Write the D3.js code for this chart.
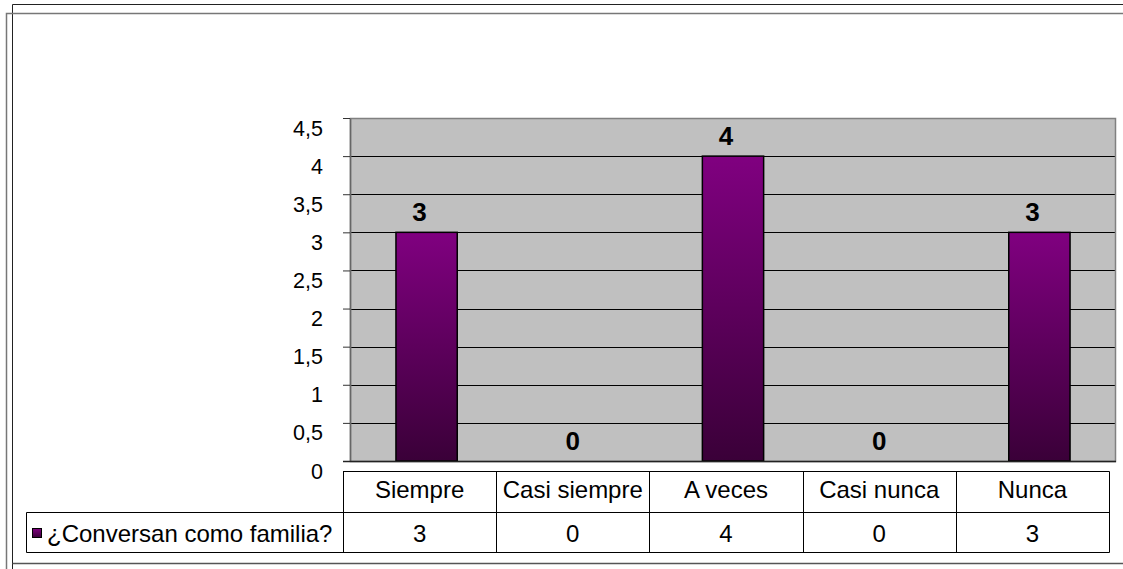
<!DOCTYPE html>
<html><head><meta charset="utf-8">
<script src="https://cdn.jsdelivr.net/npm/d3@7/dist/d3.min.js"></script>
<style>
html,body{margin:0;padding:0;background:#fff;}
svg{display:block;font-family:"Liberation Sans",Arial,sans-serif;}
</style></head>
<body>
<svg id="chart" width="1123" height="569"></svg>
<script>
const categories = ["Siempre", "Casi siempre", "A veces", "Casi nunca", "Nunca"];
const values = [3, 0, 4, 0, 3];
const seriesName = "¿Conversan como familia?";
const yTicks = [0, 0.5, 1, 1.5, 2, 2.5, 3, 3.5, 4, 4.5];
const yTickLabels = ["0", "0,5", "1", "1,5", "2", "2,5", "3", "3,5", "4", "4,5"];

const svg = d3.select("#chart");
const plot = {left: 350, top: 118, right: 1116, bottom: 461};
const tableShift = -7;
const tableFont = "24px";

// outer frames
svg.append("path").attr("d", "M12.5,569 V4.5 H1123").attr("fill","none").attr("stroke","#222").attr("stroke-width",1);
svg.append("path").attr("d", "M6.5,569 V13.5 H1123").attr("fill","none").attr("stroke","#777").attr("stroke-width",1.5);
svg.append("path").attr("d", "M12.5,563.5 H1123").attr("fill","none").attr("stroke","#555").attr("stroke-width",1.5);

const defs = svg.append("defs");
const grad = defs.append("linearGradient").attr("id","barGrad").attr("x1",0).attr("y1",0).attr("x2",0).attr("y2",1);
grad.append("stop").attr("offset","0%").attr("stop-color","#800080");
grad.append("stop").attr("offset","100%").attr("stop-color","#3a0038");

const x = d3.scaleBand().domain(categories).range([plot.left, plot.right]).paddingInner(0).paddingOuter(0);
const y = d3.scaleLinear().domain([0, 4.5]).range([plot.bottom, plot.top]);

// plot background
svg.append("rect").attr("x", plot.left).attr("y", plot.top)
  .attr("width", plot.right - plot.left).attr("height", plot.bottom - plot.top)
  .attr("fill", "#c0c0c0");

// gridlines
svg.append("g").selectAll("line").data(yTicks.filter(t => t > 0 && t < 4.5)).join("line")
  .attr("x1", plot.left).attr("x2", plot.right)
  .attr("y1", d => Math.round(y(d)) + 0.5).attr("y2", d => Math.round(y(d)) + 0.5)
  .attr("stroke", "#000").attr("stroke-width", 1);

// plot border
svg.append("rect").attr("x", plot.left + 0.5).attr("y", plot.top + 0.5)
  .attr("width", plot.right - plot.left - 1).attr("height", plot.bottom - plot.top)
  .attr("fill", "none").attr("stroke", "#808080").attr("stroke-width", 1.5);

// y axis
const yAxis = d3.axisLeft(y).tickValues(yTicks).tickSize(7)
  .tickFormat((d, i) => yTickLabels[i]).tickSizeOuter(0);
const ga = svg.append("g").attr("transform", `translate(${plot.left},0)`).call(yAxis);
ga.select(".domain").attr("stroke", "#666").attr("stroke-width", 1.5);
ga.selectAll(".tick line").attr("stroke", "#333");
ga.selectAll(".tick text").attr("font-size", "21.5px").attr("fill", "#000")
  .attr("x", -27).attr("dy", null).attr("y", 17).attr("font-family", "Liberation Sans, Arial, sans-serif");

// bars
const bw = x.bandwidth() * 0.4;
svg.append("g").selectAll("rect").data(values).join("rect")
  .attr("x", (d, i) => x(categories[i]) + (x.bandwidth() - bw) / 2)
  .attr("y", d => y(d))
  .attr("width", bw)
  .attr("height", d => y(0) - y(d))
  .attr("fill", "url(#barGrad)")
  .attr("stroke", "#000").attr("stroke-width", 1.5);

// zero line
svg.append("line").attr("x1", plot.left - 7).attr("x2", plot.right)
  .attr("y1", y(0) + 0.5).attr("y2", y(0) + 0.5).attr("stroke", "#222").attr("stroke-width", 1.5);

// value labels
svg.append("g").selectAll("text").data(values).join("text")
  .attr("x", (d, i) => x(categories[i]) + x.bandwidth() / 2 + tableShift)
  .attr("y", d => y(d) - 11)
  .attr("text-anchor", "middle").attr("font-size", "26px").attr("font-weight", "bold")
  .attr("fill", "#000").text(d => d);

// data table
const tTop = 471, tMid = 512, tBot = 552, legLeft = 26;
const tx = c => x(c) + tableShift;
const tRight = plot.right + tableShift;
const tg = svg.append("g").attr("fill", "none").attr("stroke", "#000").attr("stroke-width", 1);
tg.append("path").attr("d",
  `M${tx(categories[0])+0.5},${tMid} V${tTop+0.5} H${tRight+0.5} V${tBot+0.5} H${legLeft+0.5} V${tMid+0.5} H${tRight}`);
tg.selectAll("line.col").data(categories.slice(1)).join("line")
  .attr("x1", c => Math.round(tx(c)) + 0.5).attr("x2", c => Math.round(tx(c)) + 0.5)
  .attr("y1", tTop).attr("y2", tBot);
tg.append("line").attr("x1", Math.round(tx(categories[0])) + 0.5).attr("x2", Math.round(tx(categories[0])) + 0.5)
  .attr("y1", tTop).attr("y2", tBot);

svg.append("g").selectAll("text").data(categories).join("text")
  .attr("x", c => tx(c) + x.bandwidth() / 2).attr("y", 498)
  .attr("text-anchor", "middle").attr("font-size", tableFont).attr("fill", "#000").text(c => c);
svg.append("g").selectAll("text").data(values).join("text")
  .attr("x", (d, i) => tx(categories[i]) + x.bandwidth() / 2).attr("y", 542)
  .attr("text-anchor", "middle").attr("font-size", tableFont).attr("fill", "#000").text(d => d);

// legend key + series name
svg.append("rect").attr("x", 32.5).attr("y", 528.5).attr("width", 9).attr("height", 9)
  .attr("fill", "url(#barGrad)").attr("stroke", "#000").attr("stroke-width", 1);
svg.append("text").attr("x", 47).attr("y", 542).attr("font-size", tableFont).attr("fill", "#000").text(seriesName);
</script>
</body></html>
